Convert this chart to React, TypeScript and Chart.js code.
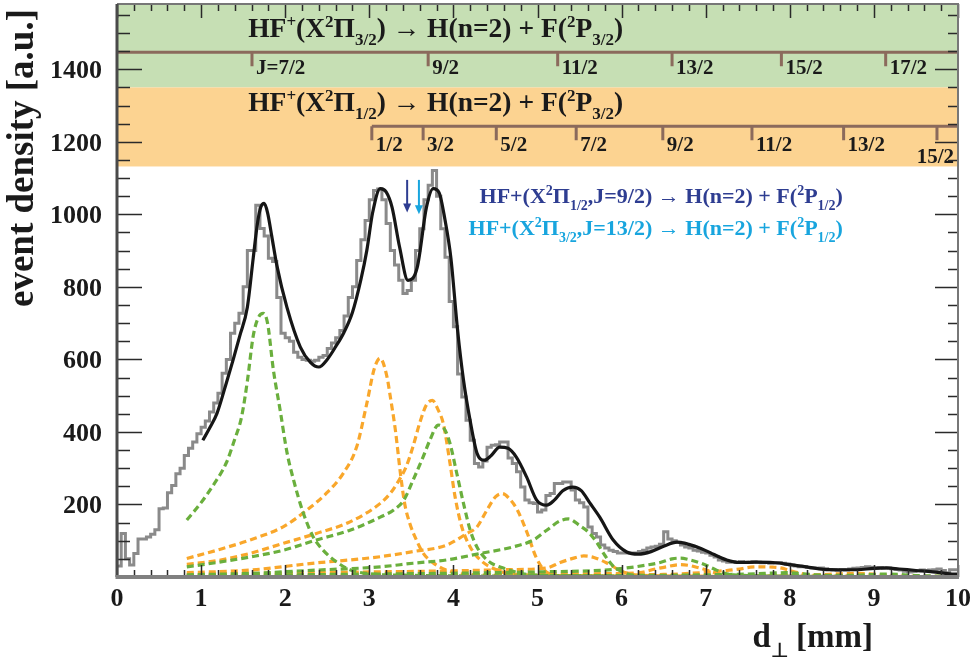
import React, { useEffect, useRef } from 'react';
import { Chart, registerables } from 'chart.js';

Chart.register(...registerables);

// ---------- axis ranges ----------
const X_MIN = 0;
const X_MAX = 10;
const Y_MIN = 0;
const Y_MAX = 1580;
const xTickLabels = ['0', '1', '2', '3', '4', '5', '6', '7', '8', '9', '10'];
const yTickLabels = ['200', '400', '600', '800', '1000', '1200', '1400'];

// ---------- measured histogram (bin width 0.05 mm, starting at 0) ----------
const BIN_START = 0;
const BIN_WIDTH = 0.05;
const histCounts = [
  150, 30, 120, 50, 33, 65, 105, 105, 110, 118, 130, 188, 190, 232, 252, 285, 300, 335, 355, 372,
  395, 413, 430, 455, 480, 507, 562, 600, 672, 700, 727, 800, 900, 900, 1025, 961, 940, 879, 870, 771,
  672, 660, 650, 620, 606, 600, 598, 595, 598, 606,
  611, 630, 645, 660, 680, 720, 771, 800, 873, 930, 983, 1040, 1066, 1070, 1040, 975, 900, 860, 818, 782,
  790, 818, 900, 960, 1040, 1080, 1121, 1050, 960, 882, 760, 690, 560, 496,
  432, 377, 313, 303, 320, 358, 363, 365, 372, 372, 328, 313, 290, 248, 212, 205, 203, 179, 185, 225,
  230, 258, 258, 262, 262, 240, 212, 205, 193, 138, 120, 110, 88, 80, 74, 70, 66, 66,
  66, 66, 66, 70, 74, 80, 83, 85, 90, 125, 105, 100, 96, 88, 83, 80, 74, 72, 68, 66,
  60, 55, 47, 44, 41, 42, 40, 43, 41, 40, 42, 41, 39, 40, 38, 39, 40, 38, 36, 33,
  30, 28, 28, 26, 25, 24, 25, 23, 21, 19, 18, 20, 19, 22, 24, 25, 26, 28, 27, 25,
  26, 24, 25, 23, 21, 19, 16, 14, 15, 17, 19, 18, 19, 20, 22, 18, 12, 20,
];

// ---------- total fit ----------
const fitX = [1.02, 1.1, 1.19, 1.3, 1.38, 1.46, 1.55, 1.62, 1.67, 1.71, 1.75, 1.79, 1.84, 1.9, 2.02, 2.18, 2.3, 2.4, 2.5, 2.6,
  2.7, 2.8, 2.9, 2.97, 3.04, 3.13, 3.2, 3.27, 3.36, 3.46, 3.57, 3.68, 3.76, 3.83, 3.9, 3.97, 4.05, 4.12, 4.2, 4.28, 4.37, 4.45,
  4.55, 4.65, 4.75, 4.87, 4.99, 5.11, 5.2, 5.3, 5.42, 5.52, 5.62, 5.74, 5.9, 6.06, 6.2, 6.35, 6.5, 6.66, 6.8, 6.95,
  7.1, 7.25, 7.4, 7.6, 7.8, 8.0, 8.2, 8.4, 8.6, 8.8, 9.0, 9.15, 9.3, 9.5, 9.7, 9.9, 10.0];
const fitY = [377, 410, 452, 535, 598, 665, 744, 880, 975, 1020, 1030, 1005, 940, 860, 744, 634, 592, 579, 600, 635,
  675, 730, 820, 900, 1005, 1071, 1062, 1020, 910, 818, 854, 1020, 1071, 1060, 985, 880, 680, 543, 430, 342, 322, 335,
  358, 355, 330, 276, 212, 198, 212, 238, 248, 238, 205, 165, 102, 69, 63, 70, 85, 96, 90, 78,
  62, 47, 40, 41, 40, 34, 28, 21, 20, 20, 24, 25, 22, 18, 14, 9, 8];

// ---------- components: X2Pi3/2 (green) ----------
const p32J7X = [0.83, 1.0, 1.15, 1.3, 1.4, 1.48, 1.55, 1.62, 1.68, 1.74, 1.79, 1.86, 1.94, 2.02, 2.1, 2.21, 2.33, 2.45, 2.62, 2.77, 3.0, 3.4, 4.0, 5.0, 7.0, 10.0];
const p32J7Y = [157, 205, 255, 315, 380, 440, 540, 665, 715, 727, 700, 570, 460, 345, 267, 180, 112, 74, 40, 20, 9, 5, 3, 2, 1, 1];
const p32J9X = [0.83, 1.19, 1.58, 1.98, 2.37, 2.77, 3.13, 3.29, 3.41, 3.52, 3.64, 3.72, 3.82, 3.9, 3.96, 4.04, 4.12, 4.2, 4.28, 4.4, 4.6, 4.92, 5.5, 7.0, 10.0];
const p32J9Y = [28, 40, 55, 74, 102, 129, 165, 185, 212, 267, 331, 377, 419, 405, 368, 286, 203, 129, 83, 47, 24, 6, 3, 1, 1];
const p32J11X = [0.83, 1.58, 2.37, 3.13, 3.52, 3.92, 4.32, 4.71, 4.95, 5.11, 5.27, 5.37, 5.5, 5.6, 5.7, 5.8, 5.9, 6.0, 6.11, 7.0, 10.0];
const p32J11Y = [6, 10, 19, 28, 38, 47, 65, 83, 102, 129, 155, 160, 142, 125, 97, 60, 30, 15, 6, 2, 1];
const p32J13X = [0.83, 3.0, 5.0, 5.8, 6.06, 6.3, 6.46, 6.6, 6.7, 6.8, 6.97, 7.1, 7.2, 7.33, 8.0, 10.0];
const p32J13Y = [4, 8, 14, 19, 25, 33, 40, 50, 52, 48, 36, 22, 12, 6, 2, 1];
const p32J15X = [0.83, 5.0, 7.0, 7.6, 7.8, 7.95, 8.1, 8.3, 8.6, 10.0];
const p32J15Y = [1, 3, 6, 9, 11, 12, 10, 6, 3, 1];
const p32J17X = [0.83, 7.0, 8.8, 9.1, 9.3, 9.5, 10.0];
const p32J17Y = [1, 3, 5, 8, 7, 4, 2];

// ---------- components: X2Pi1/2 (orange) ----------
const p12J1X = [0.83, 1.19, 1.58, 1.98, 2.26, 2.49, 2.69, 2.85, 2.97, 3.06, 3.13, 3.21, 3.25, 3.31, 3.37, 3.42, 3.48, 3.56, 3.64, 3.76, 3.92, 4.12, 5.0, 7.0, 10.0];
const p12J1Y = [51, 74, 102, 139, 185, 231, 286, 359, 478, 575, 603, 552, 497, 405, 286, 203, 149, 102, 66, 39, 19, 8, 3, 1, 1];
const p12J3X = [0.83, 1.19, 1.58, 1.98, 2.37, 2.77, 3.13, 3.25, 3.33, 3.44, 3.52, 3.6, 3.68, 3.75, 3.82, 3.88, 3.96, 4.02, 4.1, 4.2, 4.32, 4.52, 4.71, 5.5, 7.0, 10.0];
const p12J3Y = [35, 45, 65, 93, 120, 152, 203, 231, 258, 305, 360, 425, 475, 487, 460, 423, 313, 221, 138, 83, 47, 19, 8, 3, 1, 1];
const p12J5X = [0.83, 1.58, 2.37, 2.77, 3.13, 3.52, 3.92, 4.16, 4.28, 4.4, 4.5, 4.58, 4.68, 4.76, 4.88, 4.98, 5.08, 5.24, 6.0, 8.0, 10.0];
const p12J5Y = [12, 19, 39, 47, 56, 70, 88, 120, 138, 185, 221, 230, 212, 185, 120, 56, 19, 4, 2, 1, 1];
const p12J7X = [0.83, 2.0, 3.0, 4.0, 4.6, 5.11, 5.27, 5.43, 5.55, 5.67, 5.83, 6.0, 6.2, 7.0, 10.0];
const p12J7Y = [8, 11, 14, 17, 20, 25, 40, 52, 58, 54, 38, 16, 5, 2, 1];
const p12J9X = [0.83, 3.0, 5.0, 6.0, 6.22, 6.4, 6.53, 6.69, 6.8, 6.89, 7.0, 7.09, 7.2, 7.33, 8.0, 10.0];
const p12J9Y = [3, 5, 8, 10, 12, 22, 28, 34, 32, 27, 20, 13, 7, 4, 2, 1];
const p12J11X = [0.83, 4.0, 6.5, 7.25, 7.4, 7.53, 7.65, 7.8, 7.89, 8.0, 8.1, 8.25, 9.0, 10.0];
const p12J11Y = [2, 4, 7, 18, 22, 27, 28, 27, 25, 18, 12, 5, 2, 1];
const p12J13X = [0.83, 6.0, 8.3, 8.6, 8.8, 9.0, 9.2, 10.0];
const p12J13Y = [1, 3, 6, 9, 10, 8, 4, 1];

// ---------- annotation data ----------
const bandPi32 = [1350, 1580];
const bandPi12 = [1132, 1350];
const combPi32Level = 1447;
const combPi12Level = 1243;
const combPi32Pos = [1.605, 3.7, 5.24, 6.6, 7.9, 9.14];
const combPi32Labels = ['J=7/2', '9/2', '11/2', '13/2', '15/2', '17/2'];
const combPi12Pos = [3.03, 3.64, 4.51, 5.46, 6.49, 7.55, 8.64, 9.75];
const combPi12Labels = ['1/2', '3/2', '5/2', '7/2', '9/2', '11/2', '13/2', '15/2'];
const arrowPos = [3.45, 3.59];

const GREEN = '#6aaf3d';
const ORANGE = '#f9a72b';
const GREEN_BAND = '#c6dfb4';
const ORANGE_BAND = '#fcd391';
const COMB = '#8b6a5c';
const DARK_BLUE = '#2e3d91';
const LIGHT_BLUE = '#18a5de';
const INK = '#1a1a1a';
const SERIF = '"Liberation Serif", "Times New Roman", serif';

type Seg = [string, 'n' | 'sup' | 'sub'];

function drawRich(ctx: CanvasRenderingContext2D, segs: Seg[], x: number, y: number, size: number, color: string, align: 'left' | 'right') {
  const small = Math.round(size * 0.62);
  const fontFor = (k: string) => `bold ${k === 'n' ? size : small}px ${SERIF}`;
  let w = 0;
  for (const [t, k] of segs) {
    ctx.font = fontFor(k);
    w += ctx.measureText(t).width;
  }
  let cx = align === 'right' ? x - w : x;
  ctx.fillStyle = color;
  ctx.textAlign = 'left';
  ctx.textBaseline = 'alphabetic';
  for (const [t, k] of segs) {
    ctx.font = fontFor(k);
    const dy = k === 'sup' ? -size * 0.36 : k === 'sub' ? size * 0.3 : 0;
    ctx.fillText(t, cx, y + dy);
    cx += ctx.measureText(t).width;
  }
}

const titlePi32: Seg[] = [['HF', 'n'], ['+', 'sup'], ['(X', 'n'], ['2', 'sup'], ['\u03A0', 'n'], ['3/2', 'sub'], [') \u2192 H(n=2) + F(', 'n'], ['2', 'sup'], ['P', 'n'], ['3/2', 'sub'], [')', 'n']];
const titlePi12: Seg[] = [['HF', 'n'], ['+', 'sup'], ['(X', 'n'], ['2', 'sup'], ['\u03A0', 'n'], ['1/2', 'sub'], [') \u2192 H(n=2) + F(', 'n'], ['2', 'sup'], ['P', 'n'], ['3/2', 'sub'], [')', 'n']];
const noteA: Seg[] = [['HF+(X', 'n'], ['2', 'sup'], ['\u03A0', 'n'], ['1/2', 'sub'], [',J=9/2) \u2192 H(n=2) + F(', 'n'], ['2', 'sup'], ['P', 'n'], ['1/2', 'sub'], [')', 'n']];
const noteB: Seg[] = [['HF+(X', 'n'], ['2', 'sup'], ['\u03A0', 'n'], ['3/2', 'sub'], [',J=13/2) \u2192 H(n=2) + F(', 'n'], ['2', 'sup'], ['P', 'n'], ['1/2', 'sub'], [')', 'n']];

const decor = {
  id: 'decor',
  beforeDatasetsDraw(chart: any) {
    const { ctx, chartArea: a, scales } = chart;
    const y = scales.y;
    ctx.save();
    const g0 = y.getPixelForValue(bandPi32[1]);
    const g1 = y.getPixelForValue(bandPi32[0]);
    ctx.fillStyle = GREEN_BAND;
    ctx.fillRect(a.left, g0, a.right - a.left, g1 - g0);
    const o0 = y.getPixelForValue(bandPi12[1]);
    const o1 = y.getPixelForValue(bandPi12[0]);
    ctx.fillStyle = ORANGE_BAND;
    ctx.fillRect(a.left, o0, a.right - a.left, o1 - o0);
    ctx.restore();
  },
  afterDatasetsDraw(chart: any) {
    const { ctx, chartArea: a, scales } = chart;
    const x = scales.x;
    const y = scales.y;
    ctx.save();

    // combs
    ctx.strokeStyle = COMB;
    ctx.lineWidth = 3;
    const gy = y.getPixelForValue(combPi32Level);
    ctx.beginPath();
    ctx.moveTo(a.left, gy);
    ctx.lineTo(a.right, gy);
    combPi32Pos.forEach((v) => {
      const px = x.getPixelForValue(v);
      ctx.moveTo(px, gy);
      ctx.lineTo(px, gy + 14);
    });
    ctx.stroke();
    const oy = y.getPixelForValue(combPi12Level);
    ctx.beginPath();
    ctx.moveTo(x.getPixelForValue(combPi12Pos[0]), oy);
    ctx.lineTo(a.right, oy);
    combPi12Pos.forEach((v) => {
      const px = x.getPixelForValue(v);
      ctx.moveTo(px, oy);
      ctx.lineTo(px, oy + 14);
    });
    ctx.stroke();

    ctx.fillStyle = INK;
    ctx.font = `bold 21px ${SERIF}`;
    ctx.textBaseline = 'alphabetic';
    ctx.textAlign = 'left';
    combPi32Pos.forEach((v, i) => {
      ctx.fillText(combPi32Labels[i], x.getPixelForValue(v) + 4, gy + 22);
    });
    combPi12Pos.forEach((v, i) => {
      if (i === combPi12Pos.length - 1) {
        ctx.textAlign = 'right';
        ctx.fillText(combPi12Labels[i], a.right - 4, oy + 37);
        ctx.textAlign = 'left';
      } else {
        ctx.fillText(combPi12Labels[i], x.getPixelForValue(v) + 4, oy + 25);
      }
    });

    // band titles
    drawRich(ctx, titlePi32, x.getPixelForValue(1.56), y.getPixelForValue(1490), 27.5, INK, 'left');
    drawRich(ctx, titlePi12, x.getPixelForValue(1.56), y.getPixelForValue(1285), 27.5, INK, 'left');

    // notes
    drawRich(ctx, noteA, x.getPixelForValue(8.63), y.getPixelForValue(1031), 22, DARK_BLUE, 'right');
    drawRich(ctx, noteB, x.getPixelForValue(8.63), y.getPixelForValue(943), 22, LIGHT_BLUE, 'right');

    // arrows
    [DARK_BLUE, LIGHT_BLUE].forEach((c, i) => {
      const px = x.getPixelForValue(arrowPos[i]);
      const top = y.getPixelForValue(1095);
      const bot = y.getPixelForValue(i === 0 ? 1005 : 1000);
      ctx.strokeStyle = c;
      ctx.fillStyle = c;
      ctx.lineWidth = 2;
      ctx.beginPath();
      ctx.moveTo(px, top);
      ctx.lineTo(px, bot - 6);
      ctx.stroke();
      ctx.beginPath();
      ctx.moveTo(px - 4, bot - 9);
      ctx.lineTo(px + 4, bot - 9);
      ctx.lineTo(px, bot);
      ctx.closePath();
      ctx.fill();
    });

    // ticks (inside)
    ctx.strokeStyle = '#2a2a2a';
    ctx.lineWidth = 1.5;
    ctx.beginPath();
    for (let i = 0; i <= 50; i++) {
      const v = X_MIN + i * 0.2;
      const px = Math.round(x.getPixelForValue(v)) + 0.5;
      const major = i % 5 === 0;
      ctx.moveTo(px, a.bottom);
      ctx.lineTo(px, a.bottom - (major ? 12 : 7));
      ctx.moveTo(px, a.top);
      ctx.lineTo(px, a.top + (major ? 14 : 7));
    }
    for (let v = Y_MIN; v <= Y_MAX; v += 50) {
      const py = Math.round(y.getPixelForValue(v)) + 0.5;
      const major = v % 200 === 0;
      ctx.moveTo(a.left, py);
      ctx.lineTo(a.left + (major ? 25 : 13), py);
      ctx.moveTo(a.right, py);
      ctx.lineTo(a.right - (major ? 23 : 10), py);
    }
    ctx.stroke();

    // frame
    ctx.lineWidth = 2;
    ctx.strokeStyle = '#777';
    ctx.beginPath();
    ctx.moveTo(a.left, a.top);
    ctx.lineTo(a.right, a.top);
    ctx.lineTo(a.right, a.bottom);
    ctx.stroke();
    ctx.lineWidth = 3;
    ctx.strokeStyle = '#4a4a4a';
    ctx.beginPath();
    ctx.moveTo(a.left, a.top);
    ctx.lineTo(a.left, a.bottom);
    ctx.stroke();
    ctx.lineWidth = 4;
    ctx.strokeStyle = '#808080';
    ctx.beginPath();
    ctx.moveTo(a.left - 1.5, a.bottom);
    ctx.lineTo(a.right + 1, a.bottom);
    ctx.stroke();

    // tick labels
    ctx.fillStyle = INK;
    ctx.font = `bold 26px ${SERIF}`;
    ctx.textBaseline = 'alphabetic';
    ctx.textAlign = 'center';
    xTickLabels.forEach((t) => {
      ctx.fillText(t, x.getPixelForValue(Number(t)), a.bottom + 29);
    });
    ctx.textAlign = 'right';
    yTickLabels.forEach((t) => {
      ctx.fillText(t, a.left - 15, y.getPixelForValue(Number(t)) + 9);
    });

    // axis titles
    ctx.save();
    ctx.translate(33, 9);
    ctx.rotate(-Math.PI / 2);
    ctx.font = `bold 37px ${SERIF}`;
    ctx.textAlign = 'right';
    ctx.textBaseline = 'alphabetic';
    ctx.fillText('event density [a.u.]', 0, 0);
    ctx.restore();

    drawRich(ctx, [['d', 'n'], ['\u22A5', 'sub'], [' [mm]', 'n']], 873, 647, 33, INK, 'right');

    ctx.restore();
  },
};

export default function App() {
  const ref = useRef<HTMLCanvasElement | null>(null);

  useEffect(() => {
    if (!ref.current) return;
    const pts = (xs: number[], ys: number[]) => xs.map((v, i) => ({ x: v, y: ys[i] }));
    const histPts = histCounts.map((c, i) => ({ x: BIN_START + i * BIN_WIDTH, y: c }));
    histPts.push({ x: BIN_START + histCounts.length * BIN_WIDTH, y: histCounts[histCounts.length - 1] });

    const comps = [
      { xs: p32J7X, ys: p32J7Y, c: GREEN },
      { xs: p32J9X, ys: p32J9Y, c: GREEN },
      { xs: p32J11X, ys: p32J11Y, c: GREEN },
      { xs: p32J13X, ys: p32J13Y, c: GREEN },
      { xs: p32J15X, ys: p32J15Y, c: GREEN },
      { xs: p32J17X, ys: p32J17Y, c: GREEN },
      { xs: p12J1X, ys: p12J1Y, c: ORANGE },
      { xs: p12J3X, ys: p12J3Y, c: ORANGE },
      { xs: p12J5X, ys: p12J5Y, c: ORANGE },
      { xs: p12J7X, ys: p12J7Y, c: ORANGE },
      { xs: p12J9X, ys: p12J9Y, c: ORANGE },
      { xs: p12J11X, ys: p12J11Y, c: ORANGE },
      { xs: p12J13X, ys: p12J13Y, c: ORANGE },
    ];

    const datasets: any[] = [
      {
        label: 'fit',
        data: pts(fitX, fitY),
        borderColor: '#161616',
        borderWidth: 3.2,
        cubicInterpolationMode: 'monotone',
        pointRadius: 0,
        order: 0,
      },
      ...comps.map((cp, i) => ({
        label: 'c' + i,
        data: pts(cp.xs, cp.ys),
        borderColor: cp.c,
        borderWidth: 3.2,
        borderDash: [7, 4],
        cubicInterpolationMode: 'monotone',
        pointRadius: 0,
        order: 1,
      })),
      {
        label: 'data',
        data: histPts,
        borderColor: '#8a8a8a',
        borderWidth: 3,
        stepped: 'after',
        pointRadius: 0,
        order: 2,
      },
    ];

    const chart = new Chart(ref.current, {
      type: 'line',
      data: { datasets },
      options: {
        animation: false,
        responsive: false,
        devicePixelRatio: 1,
        layout: { padding: { top: 4, right: 15, left: 0, bottom: 0 } },
        plugins: { legend: { display: false }, tooltip: { enabled: false } },
        scales: {
          x: {
            type: 'linear',
            min: X_MIN,
            max: X_MAX,
            grid: { display: false, drawTicks: false },
            border: { display: false },
            afterFit: (s: any) => { s.height = 80; },
            ticks: { display: false },
          },
          y: {
            type: 'linear',
            min: Y_MIN,
            max: Y_MAX,
            grid: { display: false, drawTicks: false },
            border: { display: false },
            afterFit: (s: any) => { s.width = 117; },
            ticks: { display: false },
          },
        },
      },
      plugins: [decor],
    } as any);

    return () => chart.destroy();
  }, []);

  return (
    <div style={{ position: 'fixed', left: 0, top: 0, width: 973, height: 657, background: '#fff' }}>
      <canvas ref={ref} width={973} height={657} style={{ display: 'block', width: 973, height: 657 }} />
    </div>
  );
}
